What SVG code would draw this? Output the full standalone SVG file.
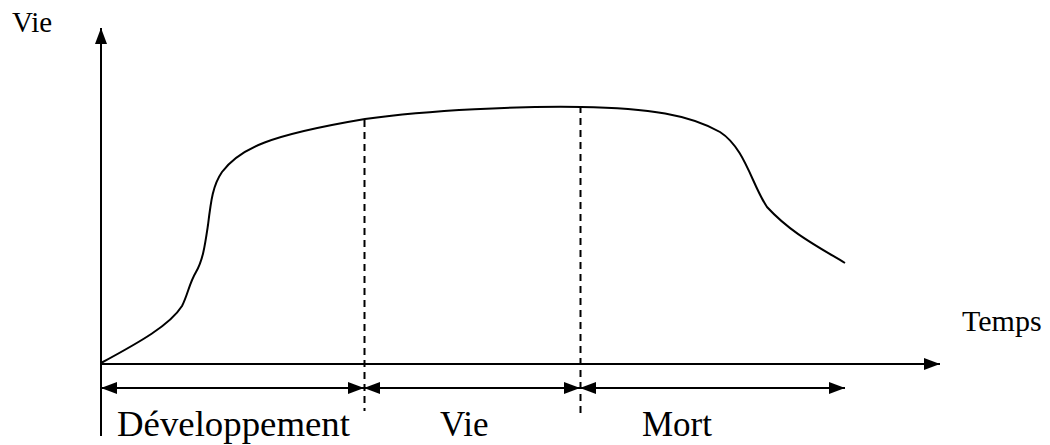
<svg xmlns="http://www.w3.org/2000/svg" width="1050" height="445" viewBox="0 0 1050 445">
<style>
.ln{stroke:#000;stroke-width:2;fill:none}
.dash{stroke:#000;stroke-width:2;fill:none;stroke-dasharray:7 5}
.t{font-family:"Liberation Serif","Times New Roman",serif;fill:#000}
</style>
<defs>
<marker id="ah" viewBox="0 0 16 12" refX="16" refY="6" markerWidth="16" markerHeight="12" markerUnits="userSpaceOnUse" orient="auto-start-reverse">
<path d="M0,0 L16,6 L0,12 Z" fill="#000"/>
</marker>
</defs>
<rect width="1050" height="445" fill="#fff"/>
<g id="axes">
<line class="ln" x1="101" y1="436" x2="101" y2="28" marker-end="url(#ah)"/>
<line class="ln" x1="101" y1="364" x2="940" y2="364" marker-end="url(#ah)"/>
</g>
<g id="curve">
<path class="ln" d="M101,363 C140,342 170,325 182,306 C188,294 189,284 196,272 C203,260 205,245 208,225 C211,200 213,185 222,172 C240,148 270,135 365,119 C430,110 520,106 581,107 C650,108 690,115 720,132 C745,148 752,185 767,207 C790,232 815,245 845,263"/>
</g>
<g id="dividers">
<line class="dash" x1="364.5" y1="120" x2="364.5" y2="411"/>
<line class="dash" x1="580.5" y1="106" x2="580.5" y2="418"/>
</g>
<g id="connectors">
<line class="ln" x1="101" y1="388" x2="364" y2="388" marker-start="url(#ah)" marker-end="url(#ah)"/>
<line class="ln" x1="364" y1="388" x2="580" y2="388" marker-start="url(#ah)" marker-end="url(#ah)"/>
<line class="ln" x1="580" y1="388" x2="845" y2="388" marker-start="url(#ah)" marker-end="url(#ah)"/>
</g>
<g id="labels">
<text class="t" x="12" y="32" font-size="29">Vie</text>
<text class="t" x="962" y="331" font-size="30">Temps</text>
<text class="t" x="117" y="436" font-size="35" textLength="233" lengthAdjust="spacingAndGlyphs">Développement</text>
<text class="t" x="440" y="436" font-size="35">Vie</text>
<text class="t" x="642" y="436" font-size="35">Mort</text>
</g>
</svg>
